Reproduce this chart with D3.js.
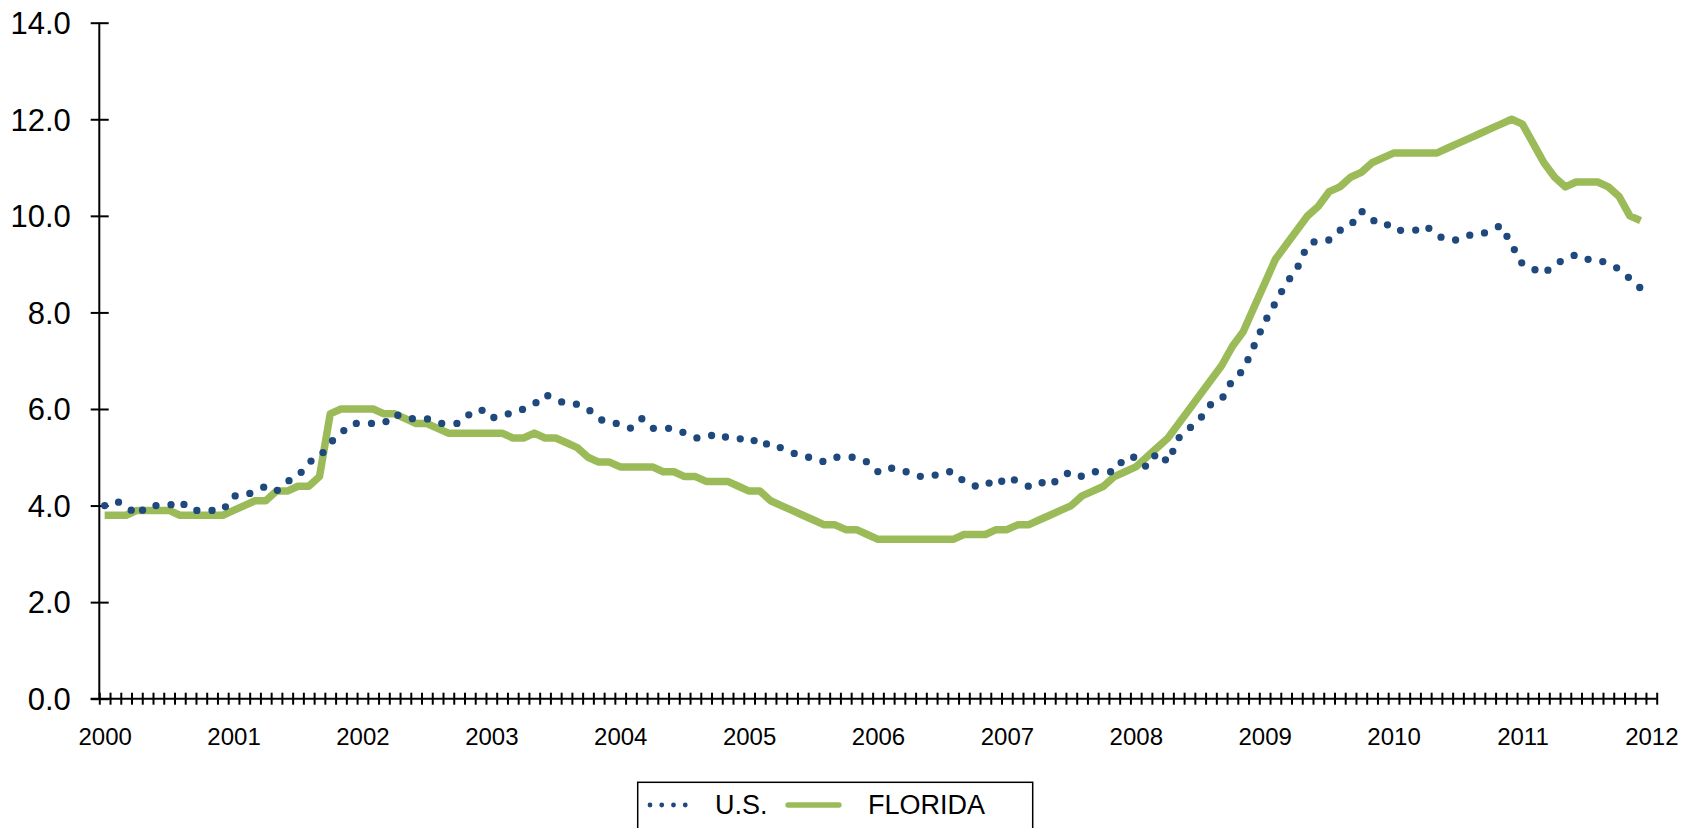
<!DOCTYPE html>
<html>
<head>
<meta charset="utf-8">
<script src="https://cdn.jsdelivr.net/npm/d3@7"></script>
<style>
  html, body { margin: 0; padding: 0; background: #ffffff; }
  svg { display: block; }
  text { font-family: "Liberation Sans", Arial, sans-serif; fill: #000; }
</style>
</head>
<body>
<svg id="chart" width="1696" height="828"></svg>
<script>
// ---- Data (monthly, Jan 2000 – Dec 2011) ----
const yearLabels = ["2000","2001","2002","2003","2004","2005","2006","2007","2008","2009","2010","2011","2012"];
const yTickValues = [0, 2, 4, 6, 8, 10, 12, 14];
const seriesNames = ["U.S.", "FLORIDA"];

const usValues = [
  4.0,4.1,4.0,3.8,4.0,4.0,4.0,4.1,3.9,3.9,3.9,3.9,
  4.2,4.2,4.3,4.4,4.3,4.5,4.6,4.9,5.0,5.3,5.5,5.7,
  5.7,5.7,5.7,5.9,5.8,5.8,5.8,5.7,5.7,5.7,5.9,6.0,
  5.8,5.9,5.9,6.0,6.1,6.3,6.2,6.1,6.1,6.0,5.8,5.7,
  5.7,5.6,5.8,5.6,5.6,5.6,5.5,5.4,5.4,5.5,5.4,5.4,
  5.3,5.4,5.2,5.2,5.1,5.0,5.0,4.9,5.0,5.0,5.0,4.9,
  4.7,4.8,4.7,4.7,4.6,4.6,4.7,4.7,4.5,4.4,4.5,4.4,
  4.6,4.5,4.4,4.5,4.4,4.6,4.7,4.6,4.7,4.7,4.7,5.0,
  5.0,4.8,5.1,4.9,5.4,5.6,5.8,6.1,6.2,6.6,6.8,7.3,
  7.8,8.2,8.6,8.9,9.4,9.5,9.5,9.7,9.8,10.1,9.9,9.9,
  9.7,9.7,9.7,9.8,9.6,9.5,9.5,9.6,9.6,9.7,9.8,9.4,
  9.0,8.9,8.8,9.0,9.1,9.2,9.1,9.1,9.0,8.9,8.7,8.5
];

const flValues = [
  3.8,3.8,3.8,3.9,3.9,3.9,3.9,3.8,3.8,3.8,3.8,3.8,
  3.9,4.0,4.1,4.1,4.3,4.3,4.4,4.4,4.6,5.9,6.0,6.0,
  6.0,6.0,5.9,5.9,5.8,5.7,5.7,5.6,5.5,5.5,5.5,5.5,
  5.5,5.5,5.4,5.4,5.5,5.4,5.4,5.3,5.2,5.0,4.9,4.9,
  4.8,4.8,4.8,4.8,4.7,4.7,4.6,4.6,4.5,4.5,4.5,4.4,
  4.3,4.3,4.1,4.0,3.9,3.8,3.7,3.6,3.6,3.5,3.5,3.4,
  3.3,3.3,3.3,3.3,3.3,3.3,3.3,3.3,3.4,3.4,3.4,3.5,
  3.5,3.6,3.6,3.7,3.8,3.9,4.0,4.2,4.3,4.4,4.6,4.7,
  4.8,5.0,5.2,5.4,5.7,6.0,6.3,6.6,6.9,7.3,7.6,8.1,
  8.6,9.1,9.4,9.7,10.0,10.2,10.5,10.6,10.8,10.9,11.1,11.2,
  11.3,11.3,11.3,11.3,11.3,11.4,11.5,11.6,11.7,11.8,11.9,12.0,
  11.9,11.5,11.1,10.8,10.6,10.7,10.7,10.7,10.6,10.4,10.0,9.9
];

const nCategories = 145; // Jan 2000 … Jan 2012 slots on the category axis

// ---- Layout ----
const svg = d3.select("#chart");
const plotLeft = 99.3, plotRight = 1656.7, plotTop = 22.7, plotBottom = 698.7;

const x = d3.scaleLinear().domain([0, nCategories]).range([plotLeft, plotRight]);
const y = d3.scaleLinear().domain([0, 14]).range([plotBottom, plotTop]);

const blue = "#1F497D", green = "#9BBB59";
const fontFam = '"Liberation Sans", Arial, sans-serif';

// ---- Y axis ----
const yAxis = d3.axisLeft(y).tickValues(yTickValues).tickFormat(d3.format(".1f")).tickSize(0).tickPadding(0);
const gy = svg.append("g").attr("transform", `translate(${plotLeft},0)`).call(yAxis);
gy.select(".domain").remove();
gy.selectAll(".tick text")
  .attr("x", -28.5).attr("dy", "0.35em")
  .style("font-size", "31px").style("font-family", fontFam).attr("fill", "#000");
gy.selectAll(".tick").append("line")
  .attr("x1", -8.6).attr("x2", 9.4).attr("stroke", "#000").attr("stroke-width", 2);
svg.append("line").attr("x1", plotLeft).attr("x2", plotLeft).attr("y1", plotTop).attr("y2", plotBottom)
  .attr("stroke", "#000").attr("stroke-width", 2);

// ---- X axis: category boundary ticks ----
const xTicksAxis = d3.axisBottom(x).tickValues(d3.range(0, nCategories + 1)).tickFormat("").tickSize(0);
const gx = svg.append("g").attr("transform", `translate(0,${plotBottom})`).call(xTicksAxis);
gx.select(".domain").remove();
gx.selectAll(".tick line").attr("y1", -6).attr("y2", 6).attr("stroke", "#000").attr("stroke-width", 2);
svg.append("line").attr("x1", plotLeft - 8.6).attr("x2", plotRight).attr("y1", plotBottom).attr("y2", plotBottom)
  .attr("stroke", "#000").attr("stroke-width", 2);

// ---- X axis labels (every 12th category, centred) ----
const labelAxis = d3.axisBottom(x)
  .tickValues(yearLabels.map((d, i) => i * 12 + 0.5))
  .tickFormat((d, i) => yearLabels[i]).tickSize(0).tickPadding(0);
const gl = svg.append("g").attr("transform", `translate(0,${plotBottom})`).call(labelAxis);
gl.select(".domain").remove();
gl.selectAll(".tick text").attr("y", 46).attr("dy", 0)
  .style("font-size", "24px").style("font-family", fontFam).attr("fill", "#000");

// ---- Lines ----
const line = d3.line().x((d, i) => x(i + 0.5)).y(d => y(d));

svg.append("path").datum(flValues)
  .attr("d", line).attr("fill", "none").attr("stroke", green)
  .attr("stroke-width", 7.5).attr("stroke-linejoin", "round");

svg.append("path").datum(usValues)
  .attr("d", line).attr("fill", "none").attr("stroke", blue)
  .attr("stroke-width", 7.3).attr("stroke-linecap", "round")
  .attr("stroke-dasharray", "0 15.2");

// ---- Legend ----
const lg = svg.append("g");
lg.append("rect").attr("x", 637.7).attr("y", 782.3).attr("width", 395).attr("height", 80)
  .attr("fill", "#fff").attr("stroke", "#000").attr("stroke-width", 1.5);
lg.append("line").attr("x1", 650).attr("x2", 697).attr("y1", 805).attr("y2", 805)
  .attr("stroke", blue).attr("stroke-width", 4.8).attr("stroke-linecap", "round")
  .attr("stroke-dasharray", "0 11.75");
lg.append("text").attr("x", 715).attr("y", 805).attr("dy", "0.35em")
  .style("font-size", "27px").style("font-family", fontFam).text(seriesNames[0]);
lg.append("line").attr("x1", 788).attr("x2", 839).attr("y1", 805).attr("y2", 805)
  .attr("stroke", green).attr("stroke-width", 5.3).attr("stroke-linecap", "round");
lg.append("text").attr("x", 868).attr("y", 805).attr("dy", "0.35em")
  .style("font-size", "27px").style("font-family", fontFam).text(seriesNames[1]);
</script>
</body>
</html>
